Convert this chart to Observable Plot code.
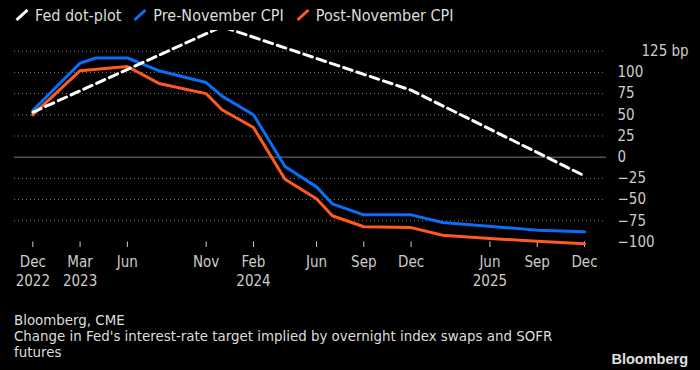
<!DOCTYPE html>
<html><head><meta charset="utf-8">
<script src="https://cdn.jsdelivr.net/npm/d3@7"></script>
<script src="https://cdn.jsdelivr.net/npm/@observablehq/plot@0.6"></script>
<style>
html,body{margin:0;padding:0;background:#000;width:700px;height:370px;overflow:hidden;}
body{position:relative;font-family:"DejaVu Sans Condensed","DejaVu Sans",sans-serif;font-stretch:condensed;color:#ddd;}
#legend{position:absolute;left:15px;top:3px;display:flex;align-items:center;font-size:16px;height:24px;white-space:nowrap}
.item{display:flex;align-items:center;margin-right:12px}
.item svg{margin-right:6px}
#chart{position:absolute;left:0;top:30px}
#caption{position:absolute;left:14px;top:313px;font-family:"DejaVu Sans",sans-serif;font-stretch:normal;font-size:13.4px;line-height:16px;width:560px;color:#ddd}
#logo{position:absolute;right:12px;top:350.5px;font-family:"Liberation Sans",Arial,sans-serif;font-weight:bold;font-size:14.5px;color:#e0e0e0;font-stretch:normal}
</style></head>
<body>
<div id="legend"></div>
<div id="chart"></div>
<div id="caption">Bloomberg, CME<br>Change in Fed's interest-rate target implied by overnight index swaps and SOFR futures</div>
<div id="logo">Bloomberg</div>
<script>
// Data (x = month position on the chart's axis, y = basis points)
const seriesNames = ["Fed dot-plot", "Pre-November CPI", "Post-November CPI"];
const seriesColors = ["#ffffff", "#0a6ef7", "#ff5a1f"];

const dotIdx = [0, 12, 24, 35];
const dotVal = [53, 154, 79, -22];

const preIdx = [0, 3, 4, 6, 8, 11, 12, 14, 16, 18, 19, 21, 24, 26, 32, 35];
const preVal = [55, 111, 117, 117, 102, 88, 72, 50, -11, -35, -55, -68, -68, -77, -86, -88];

const postIdx = [0, 3, 6, 8, 11, 12, 14, 16, 18, 19, 21, 24, 26, 29, 32, 35];
const postVal = [50, 102, 107, 87, 75, 56, 35, -26, -49, -69, -82, -83, -92, -96, -99, -102];

const tickIdx = [0, 3, 6, 11, 14, 18, 21, 24, 29, 32, 35];
const tickMonth = ["Dec", "Mar", "Jun", "Nov", "Feb", "Jun", "Sep", "Dec", "Jun", "Sep", "Dec"];
const yearIdx = [0, 3, 14, 29];
const yearLabel = ["2022", "2023", "2024", "2025"];

const yTicks = [-100, -75, -50, -25, 0, 25, 50, 75, 100, 125];
const gridVals = [-75, -50, -25, 25, 50, 75, 100, 125];

const toRows = (xs, ys) => xs.map((x, i) => ({x, y: ys[i]}));
const dot = toRows(dotIdx, dotVal);
const pre = toRows(preIdx, preVal);
const post = toRows(postIdx, postVal);

// Legend
const legend = document.getElementById("legend");
seriesNames.forEach((n, i) => {
  const it = document.createElement("div");
  it.className = "item";
  it.innerHTML = `<svg width="14" height="12"><line x1="1.5" y1="11" x2="12.5" y2="1" stroke="${seriesColors[i]}" stroke-width="3"/></svg><span>${n}</span>`;
  legend.appendChild(it);
});

const fmt = d => d === 125 ? "" : (d < 0 ? "\u2212" + Math.abs(d) : String(d));
const font = '"DejaVu Sans Condensed","DejaVu Sans",sans-serif';

const chart = Plot.plot({
  width: 700, height: 280,
  marginLeft: 14, marginRight: 94, marginTop: 0, marginBottom: 68.5,
  style: {background: "transparent", color: "#cccccc", fontFamily: font, fontSize: "15px", fontStretch: "condensed"},
  x: {domain: [0, 35], range: [32.3, 584], label: null},
  y: {domain: [-100, 125], range: [211.5, 20.7], label: null},
  marks: [
    Plot.ruleY(gridVals, {stroke: "#808080", strokeDasharray: "1,3", strokeWidth: 1}),
    Plot.ruleY([0], {stroke: "#505050", strokeWidth: 1.5}),
    Plot.axisY(yTicks, {anchor: "right", tickSize: 0, tickPadding: 11, tickFormat: fmt, label: null}),
    Plot.text([125], {y: d => d, frameAnchor: "right", dx: 35, textAnchor: "start", text: () => "125 bp", fill: "#cccccc"}),
    Plot.axisX(tickIdx, {anchor: "bottom", tickSize: 5.5, tickPadding: 9, tickFormat: d => tickMonth[tickIdx.indexOf(d)], label: null}),
    Plot.axisX(yearIdx, {anchor: "bottom", tickSize: 0, tickPadding: 33.5, tickFormat: d => yearLabel[yearIdx.indexOf(d)], label: null}),
    Plot.line(post, {x: "x", y: "y", stroke: seriesColors[2], strokeWidth: 3, strokeLinejoin: "round"}),
    Plot.line(pre, {x: "x", y: "y", stroke: seriesColors[1], strokeWidth: 3, strokeLinejoin: "round"}),
    Plot.line(dot, {x: "x", y: "y", stroke: seriesColors[0], strokeWidth: 3, strokeDasharray: "9,5"})
  ]
});
document.getElementById("chart").appendChild(chart);
</script>
</body></html>
